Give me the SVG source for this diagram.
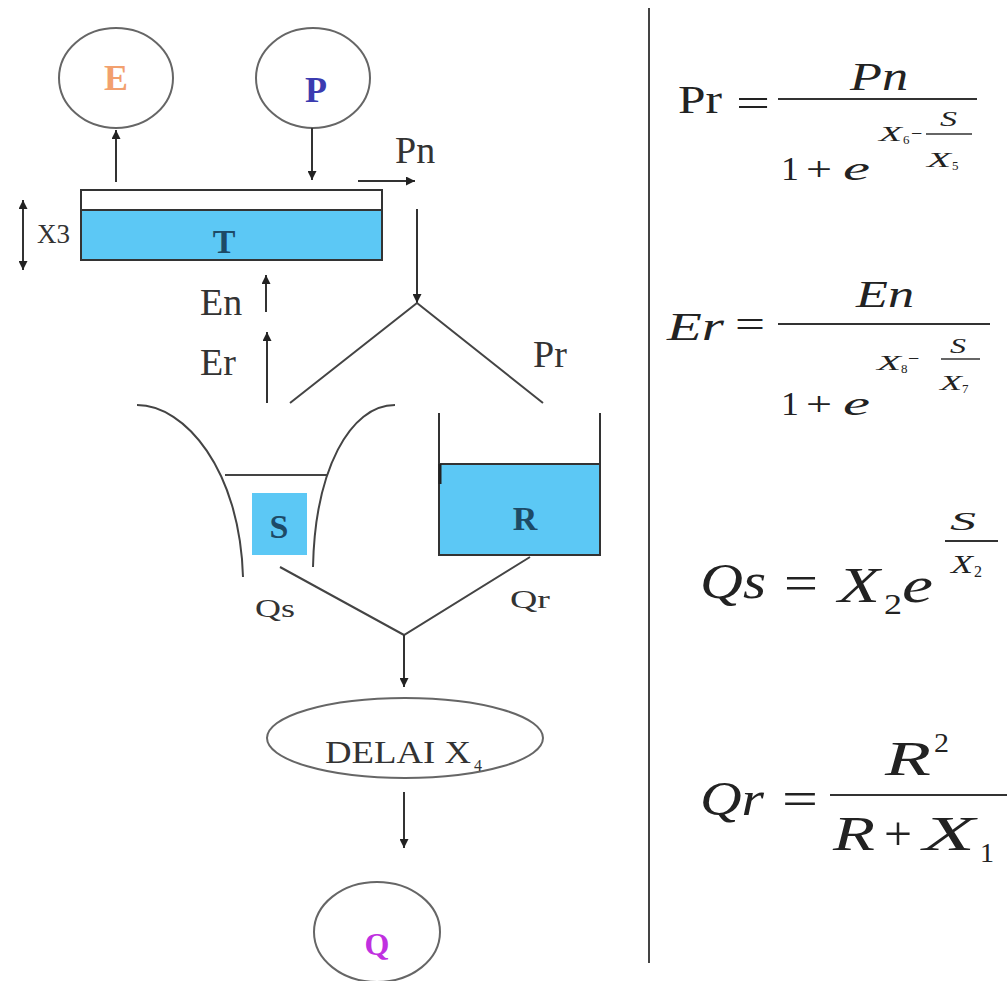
<svg xmlns="http://www.w3.org/2000/svg" width="1008" height="981" viewBox="0 0 1008 981">
<defs>
<marker id="ah" viewBox="0 0 10 10" refX="10" refY="5" markerWidth="9" markerHeight="9" markerUnits="userSpaceOnUse" orient="auto-start-reverse">
<path d="M0,0 L10,5 L0,10 z" fill="#222"/>
</marker>
<style>
.ln{stroke:#444;stroke-width:2;fill:none}
.ar{stroke:#333;stroke-width:2;fill:none;marker-end:url(#ah)}
.circ{stroke:#666;stroke-width:2;fill:#fff}
.blue{fill:#5cc8f5}
.t{font-family:"Liberation Serif","Times New Roman",serif;fill:#222}
.i{font-style:italic}
.lbl{font-family:"Liberation Serif","Times New Roman",serif;fill:#333;font-size:38px}
.store{font-family:"Liberation Serif","Times New Roman",serif;fill:#1d4a66;font-weight:bold;font-size:34px}
</style>
</defs>
<rect width="1008" height="981" fill="#fff"/>

<g id="node-E">
<ellipse class="circ" cx="116" cy="78" rx="57" ry="50"/>
<text class="t" x="116" y="90" font-size="36" font-weight="bold" text-anchor="middle" style="fill:#f2a06e">E</text>
</g>
<g id="node-P">
<ellipse class="circ" cx="313" cy="78" rx="57" ry="50"/>
<text class="t" x="316" y="102" font-size="36" font-weight="bold" text-anchor="middle" style="fill:#3b3bb0">P</text>
</g>

<g id="node-T">
<rect x="81" y="190" width="301" height="70" fill="#fff" stroke="#333" stroke-width="2"/>
<rect class="blue" x="81" y="210" width="301" height="50" stroke="#333" stroke-width="2"/>
<text class="store" x="224" y="253" text-anchor="middle" font-size="36">T</text>
</g>

<g id="label-X3">
<text class="t" x="37" y="243" font-size="27" style="fill:#333">X3</text>
</g>

<g id="node-S">
<path class="ln" d="M137,405 C185,405 240,470 243,577"/>
<path class="ln" d="M395,405 C350,405 315,470 313,567"/>
<line class="ln" x1="225" y1="475" x2="327" y2="475"/>
<rect class="blue" x="252" y="493" width="55" height="62"/>
<text class="store" x="279" y="538" text-anchor="middle">S</text>
</g>

<g id="node-R">
<rect class="blue" x="439" y="464" width="161" height="91" stroke="#333" stroke-width="2"/>
<line class="ln" x1="439" y1="413" x2="439" y2="555" style="stroke:#333"/>
<line class="ln" x1="600" y1="413" x2="600" y2="555" style="stroke:#333"/>
<line x1="440" y1="464" x2="440" y2="484" stroke="#222" stroke-width="3"/>
<text class="store" x="525" y="530" text-anchor="middle" font-size="32">R</text>
</g>

<g id="node-DELAI">
<ellipse class="circ" cx="405" cy="738" rx="138" ry="40"/>
<text class="t" x="325" y="763" font-size="32" textLength="146" lengthAdjust="spacingAndGlyphs" style="fill:#333">DELAI X</text>
<text class="t" x="474" y="771" font-size="16" style="fill:#333">4</text>
</g>

<g id="node-Q">
<ellipse class="circ" cx="377" cy="932" rx="63" ry="50"/>
<text class="t" x="377" y="955" font-size="32" font-weight="bold" text-anchor="middle" style="fill:#c030e0">Q</text>
</g>

<g id="connectors">
<line class="ar" x1="116" y1="182" x2="116" y2="130"/>
<line class="ar" x1="312" y1="128" x2="312" y2="180"/>
<line class="ar" x1="23" y1="200" x2="23" y2="270" style="marker-start:url(#ah)"/>
<line class="ar" x1="358" y1="181" x2="415" y2="181"/>
<line class="ar" x1="417" y1="209" x2="417" y2="303"/>
<polyline class="ln" points="290,403 417,303 543,403"/>
<line class="ar" x1="266" y1="312" x2="266" y2="275"/>
<line class="ar" x1="267" y1="403" x2="267" y2="332"/>
<polyline class="ln" points="280,567 404,635 530,557"/>
<line class="ar" x1="404" y1="635" x2="404" y2="687"/>
<line class="ar" x1="404" y1="792" x2="404" y2="848"/>
</g>

<g id="flow-labels">
<text class="lbl" x="395" y="163">Pn</text>
<text class="lbl" x="200" y="315">En</text>
<text class="lbl" x="200" y="375">Er</text>
<text class="lbl" x="533" y="367">Pr</text>
<text class="lbl" x="255" y="617" textLength="40" lengthAdjust="spacingAndGlyphs" style="font-size:26px">Qs</text>
<text class="lbl" x="510" y="608" textLength="40" lengthAdjust="spacingAndGlyphs" style="font-size:26px">Qr</text>
</g>

<line id="separator" x1="649" y1="8" x2="649" y2="963" stroke="#444" stroke-width="2"/>

<g id="formula-Pr">
<text class="t" x="678" y="113" font-size="40" textLength="44" lengthAdjust="spacingAndGlyphs">Pr</text>
<text class="t" x="736" y="117" font-size="40" textLength="34" lengthAdjust="spacingAndGlyphs">=</text>
<line x1="778" y1="99" x2="977" y2="99" stroke="#333" stroke-width="2"/>
<text class="t i" x="850" y="90" font-size="40" textLength="58" lengthAdjust="spacingAndGlyphs">Pn</text>
<text class="t" x="781" y="180" font-size="34" textLength="18" lengthAdjust="spacingAndGlyphs">1</text>
<text class="t" x="806" y="180" font-size="34" textLength="26" lengthAdjust="spacingAndGlyphs">+</text>
<text class="t i" x="843" y="180" font-size="34" textLength="27" lengthAdjust="spacingAndGlyphs">e</text>
<text class="t i" x="879" y="141" font-size="20" textLength="23" lengthAdjust="spacingAndGlyphs">X</text>
<text class="t" x="903" y="144" font-size="13">6</text>
<text class="t" x="911" y="140" font-size="20">−</text>
<text class="t i" x="940" y="126" font-size="20" textLength="17" lengthAdjust="spacingAndGlyphs">S</text>
<line x1="926" y1="134" x2="972" y2="134" stroke="#333" stroke-width="1.5"/>
<text class="t i" x="927" y="167" font-size="20" textLength="24" lengthAdjust="spacingAndGlyphs">X</text>
<text class="t" x="952" y="170" font-size="13">5</text>
</g>

<g id="formula-Er">
<text class="t i" x="667" y="340" font-size="40" textLength="57" lengthAdjust="spacingAndGlyphs">Er</text>
<text class="t" x="735" y="338" font-size="40" textLength="30" lengthAdjust="spacingAndGlyphs">=</text>
<line x1="778" y1="324" x2="990" y2="324" stroke="#333" stroke-width="2"/>
<text class="t i" x="856" y="307" font-size="38" textLength="58" lengthAdjust="spacingAndGlyphs">En</text>
<text class="t" x="781" y="415" font-size="34" textLength="18" lengthAdjust="spacingAndGlyphs">1</text>
<text class="t" x="806" y="415" font-size="34" textLength="26" lengthAdjust="spacingAndGlyphs">+</text>
<text class="t i" x="843" y="415" font-size="34" textLength="27" lengthAdjust="spacingAndGlyphs">e</text>
<text class="t i" x="877" y="370" font-size="20" textLength="24" lengthAdjust="spacingAndGlyphs">X</text>
<text class="t" x="901" y="373" font-size="13">8</text>
<text class="t" x="908" y="365" font-size="20">−</text>
<text class="t i" x="950" y="353" font-size="20" textLength="16" lengthAdjust="spacingAndGlyphs">S</text>
<line x1="941" y1="359" x2="980" y2="359" stroke="#333" stroke-width="1.5"/>
<text class="t i" x="940" y="390" font-size="20" textLength="22" lengthAdjust="spacingAndGlyphs">X</text>
<text class="t" x="962" y="393" font-size="13">7</text>
</g>

<g id="formula-Qs">
<text class="t i" x="700" y="598" font-size="50" textLength="66" lengthAdjust="spacingAndGlyphs">Qs</text>
<text class="t" x="784" y="600" font-size="50" textLength="34" lengthAdjust="spacingAndGlyphs">=</text>
<text class="t i" x="838" y="602" font-size="50" textLength="42" lengthAdjust="spacingAndGlyphs">X</text>
<text class="t" x="884" y="614" font-size="30" textLength="18" lengthAdjust="spacingAndGlyphs">2</text>
<text class="t i" x="902" y="602" font-size="50" textLength="31" lengthAdjust="spacingAndGlyphs">e</text>
<text class="t i" x="950" y="530" font-size="26" textLength="26" lengthAdjust="spacingAndGlyphs">S</text>
<line x1="945" y1="541" x2="998" y2="541" stroke="#333" stroke-width="2"/>
<text class="t i" x="951" y="573" font-size="26" textLength="22" lengthAdjust="spacingAndGlyphs">X</text>
<text class="t" x="974" y="577" font-size="16">2</text>
</g>

<g id="formula-Qr">
<text class="t i" x="700" y="815" font-size="48" textLength="64" lengthAdjust="spacingAndGlyphs">Qr</text>
<text class="t" x="782" y="815" font-size="48" textLength="36" lengthAdjust="spacingAndGlyphs">=</text>
<line x1="830" y1="795" x2="1007" y2="795" stroke="#333" stroke-width="2"/>
<text class="t i" x="885" y="775" font-size="48" textLength="46" lengthAdjust="spacingAndGlyphs">R</text>
<text class="t" x="934" y="752" font-size="28" textLength="15" lengthAdjust="spacingAndGlyphs">2</text>
<text class="t i" x="833" y="850" font-size="48" textLength="42" lengthAdjust="spacingAndGlyphs">R</text>
<text class="t" x="884" y="850" font-size="48" textLength="28" lengthAdjust="spacingAndGlyphs">+</text>
<text class="t i" x="923" y="850" font-size="48" textLength="52" lengthAdjust="spacingAndGlyphs">X</text>
<text class="t" x="980" y="862" font-size="28" textLength="14" lengthAdjust="spacingAndGlyphs">1</text>
</g>
</svg>
